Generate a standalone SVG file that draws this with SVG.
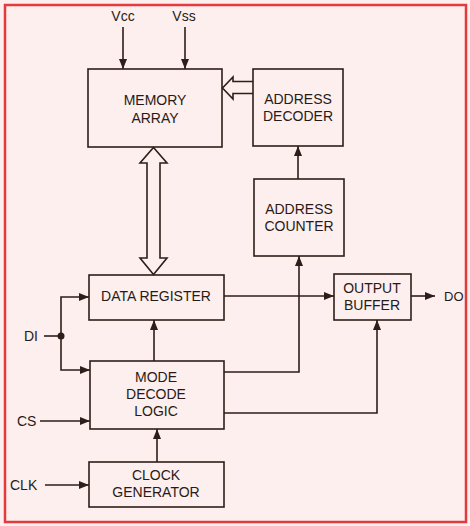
<svg xmlns="http://www.w3.org/2000/svg" width="470" height="526" viewBox="0 0 470 526">
<defs>
<style>
.box{fill:none;stroke:#2e1e1a;stroke-width:1.6}
.ln{fill:none;stroke:#2e1e1a;stroke-width:1.6}
.hol{fill:#fcefed;stroke:#2e1e1a;stroke-width:1.6;stroke-linejoin:miter}
text{font-family:"Liberation Sans",Arial,sans-serif;font-size:14px;fill:#2a1a16;text-anchor:middle}
.lbl{text-anchor:start}
</style>
<marker id="ah" viewBox="0 0 10 8" refX="10" refY="4" markerWidth="10" markerHeight="8" markerUnits="userSpaceOnUse" orient="auto">
<path d="M0,0 L10,4 L0,8 Z" fill="#2e1e1a"/>
</marker>
</defs>
<rect x="0" y="0" width="470" height="526" fill="#fcefed"/>
<rect x="5" y="5" width="461" height="517" fill="none" stroke="#e23a3e" stroke-width="2.5"/>

<g id="connectors">
<line class="ln" x1="123" y1="27" x2="123" y2="69" marker-end="url(#ah)"/>
<line class="ln" x1="185" y1="27" x2="185" y2="69" marker-end="url(#ah)"/>
<path class="hol" d="M253,81.5 L233,81.5 L233,77 L222.5,88 L233,99 L233,93.5 L253,93.5"/>
<path class="hol" d="M153.5,147.5 L167,163 L160,163 L160,258 L167,258 L153.5,274.5 L140,258 L147,258 L147,163 L140,163 Z"/>
<line class="ln" x1="298" y1="179" x2="298" y2="146" marker-end="url(#ah)"/>
<polyline class="ln" points="224,372 299,372 299,256" marker-end="url(#ah)"/>
<line class="ln" x1="224" y1="296" x2="334" y2="296" marker-end="url(#ah)"/>
<line class="ln" x1="411" y1="296" x2="435" y2="296" marker-end="url(#ah)"/>
<polyline class="ln" points="224,413 377,413 377,320" marker-end="url(#ah)"/>
<line class="ln" x1="154" y1="361" x2="154" y2="320" marker-end="url(#ah)"/>
<line class="ln" x1="157" y1="462" x2="157" y2="429" marker-end="url(#ah)"/>
<line class="ln" x1="44" y1="336" x2="61" y2="336"/>
<polyline class="ln" points="61,336 61,297 89,297" marker-end="url(#ah)"/>
<polyline class="ln" points="61,336 61,370 90,370" marker-end="url(#ah)"/>
<circle cx="61" cy="336" r="3.5" fill="#2e1e1a"/>
<line class="ln" x1="40" y1="421" x2="90" y2="421" marker-end="url(#ah)"/>
<line class="ln" x1="45" y1="485" x2="89" y2="485" marker-end="url(#ah)"/>
</g>

<g id="memory-array">
<rect class="box" x="88" y="69" width="134" height="78"/>
<text x="155" y="105">MEMORY</text>
<text x="155" y="123">ARRAY</text>
</g>
<g id="address-decoder">
<rect class="box" x="253" y="69" width="90" height="77"/>
<text x="298" y="104">ADDRESS</text>
<text x="298" y="121">DECODER</text>
</g>
<g id="address-counter">
<rect class="box" x="254" y="179" width="90" height="77"/>
<text x="299" y="214">ADDRESS</text>
<text x="299" y="231">COUNTER</text>
</g>
<g id="data-register">
<rect class="box" x="89" y="275" width="135" height="45"/>
<text x="156" y="301">DATA REGISTER</text>
</g>
<g id="output-buffer">
<rect class="box" x="334" y="274" width="77" height="46"/>
<text x="372" y="293">OUTPUT</text>
<text x="372" y="310">BUFFER</text>
</g>
<g id="mode-decode-logic">
<rect class="box" x="90" y="361" width="134" height="68"/>
<text x="156" y="382">MODE</text>
<text x="156" y="399">DECODE</text>
<text x="156" y="416">LOGIC</text>
</g>
<g id="clock-generator">
<rect class="box" x="89" y="462" width="135" height="45"/>
<text x="156" y="480">CLOCK</text>
<text x="156" y="497">GENERATOR</text>
</g>
<g id="labels">
<text x="123" y="21">Vcc</text>
<text x="184" y="21">Vss</text>
<text class="lbl" x="24" y="341">DI</text>
<text class="lbl" x="17" y="426">CS</text>
<text class="lbl" x="10" y="490">CLK</text>
<text class="lbl" x="444" y="301" style="font-size:13px">DO</text>
</g>
</svg>
